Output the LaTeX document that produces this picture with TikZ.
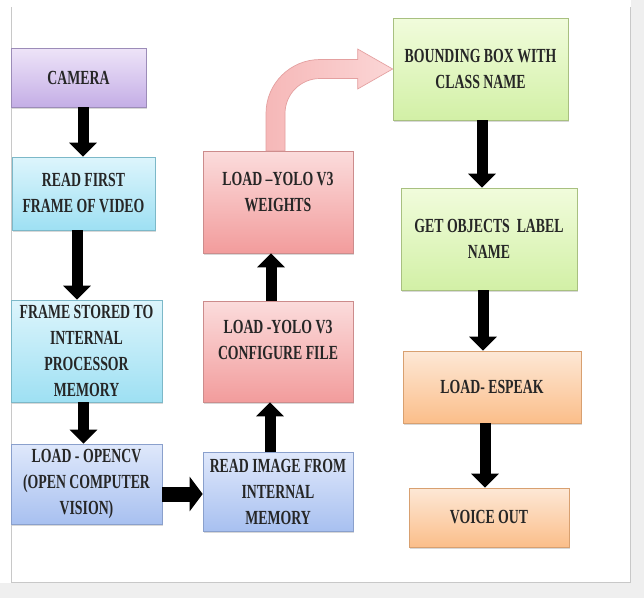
\documentclass[tikz,border=0pt]{standalone}
\usepackage{fontspec}
\newfontfamily\boxfont{Liberation Serif}[FakeStretch=0.69]
\usetikzlibrary{arrows.meta, shadows, calc}

\definecolor{txtgray}{HTML}{262626}
\definecolor{pagegray}{HTML}{EFEFEF}
\definecolor{panelline}{HTML}{C8C8C8}
% 方框颜色
\definecolor{purpleedge}{HTML}{9C8CB8}
\definecolor{purpletop}{HTML}{EEE4F8}
\definecolor{purplebot}{HTML}{C4AEE6}
\definecolor{cyanedge}{HTML}{7CB8C8}
\definecolor{cyantop}{HTML}{DDF5FC}
\definecolor{cyanbot}{HTML}{9EE0F3}
\definecolor{blueedge}{HTML}{8AA0CC}
\definecolor{bluetop}{HTML}{DFE8FB}
\definecolor{bluebot}{HTML}{A8C0F0}
\definecolor{rededge}{HTML}{CC8C8C}
\definecolor{redtop}{HTML}{FBDCDC}
\definecolor{redbot}{HTML}{F29C9C}
\definecolor{greenedge}{HTML}{A8C080}
\definecolor{greentop}{HTML}{F1FCDC}
\definecolor{greenbot}{HTML}{D2F0A6}
\definecolor{orangeedge}{HTML}{D8A070}
\definecolor{orangetop}{HTML}{FDE8D6}
\definecolor{orangebot}{HTML}{FBBE8A}
\definecolor{pinkedge}{HTML}{E4A0A0}
\definecolor{pinkleft}{HTML}{F6B8B8}
\definecolor{pinkright}{HTML}{FBD6D6}

\begin{document}
\begin{tikzpicture}[
        x=1pt, y=-1pt,
        box/.style={
            draw,
            line width=0.7pt,
            align=center,
            inner sep=2pt,
            font=\boxfont\bfseries\fontsize{20pt}{26pt}\selectfont,
            text=txtgray,
            drop shadow={shadow xshift=1.2pt, shadow yshift=-1.8pt, opacity=0.3}
        },
        purplebox/.style={draw=purpleedge, top color=purpletop, bottom color=purplebot},
        cyanbox/.style={draw=cyanedge, top color=cyantop, bottom color=cyanbot},
        bluebox/.style={draw=blueedge, top color=bluetop, bottom color=bluebot},
        redbox/.style={draw=rededge, top color=redtop, bottom color=redbot},
        greenbox/.style={draw=greenedge, top color=greentop, bottom color=greenbot},
        orangebox/.style={draw=orangeedge, top color=orangetop, bottom color=orangebot},
        blk/.style={line width=11pt, -{Triangle[width=27pt, length=14pt]}},
        bendarrow/.style={draw=pinkedge, line width=0.7pt, left color=pinkleft, right color=pinkright}
    ]
        % 页面背景
        \useasboundingbox (0,0) rectangle (644,598);
        \fill[white] (0,0) rectangle (644,598);
        \fill[pagegray] (631,0) rectangle (644,598);
        \fill[pagegray] (0,583) rectangle (644,598);
        \draw[panelline] (11,7) -- (11,582) -- (630,582) -- (630,7);

        % 左列
        \node[box, purplebox, minimum width=135pt, minimum height=59pt] (camera) at (78.5,77.5) {CAMERA};
        \node[box, cyanbox, minimum width=143pt, minimum height=73pt] (readfirst) at (83.5,193.5) {READ FIRST\\FRAME OF VIDEO};
        \node[box, cyanbox, minimum width=151pt, minimum height=102pt] (framestored) at (86.5,351) {FRAME STORED TO\\INTERNAL\\PROCESSOR\\MEMORY};
        \node[box, bluebox, minimum width=151pt, minimum height=80pt] (opencv) at (86.5,484) {LOAD - OPENCV\\(OPEN COMPUTER\\VISION)};

        % 中列
        \node[box, bluebox, minimum width=150pt, minimum height=79pt] (readimg) at (278,491.5) {READ IMAGE FROM\\INTERNAL\\MEMORY};
        \node[box, redbox, minimum width=150pt, minimum height=101pt] (configure) at (278,351.5) {LOAD -YOLO V3\\CONFIGURE FILE\\[-3pt]\mbox{}};
        \node[box, redbox, minimum width=150pt, minimum height=102pt] (weights) at (278,202) {LOAD –YOLO V3\\WEIGHTS\\[-6pt]\mbox{}};

        % 右列
        \node[box, greenbox, minimum width=175pt, minimum height=102pt] (bbox) at (480.5,69) {BOUNDING BOX WITH\\CLASS NAME};
        \node[box, greenbox, minimum width=176pt, minimum height=102pt] (getobj) at (489,239) {GET OBJECTS~ LABEL\\NAME};
        \node[box, orangebox, minimum width=178pt, minimum height=72pt] (espeak) at (492,387) {LOAD- ESPEAK};
        \node[box, orangebox, minimum width=160pt, minimum height=59pt] (voice) at (489,517.5) {VOICE OUT};

        % 箭头
        \draw[blk] ([xshift=4.5pt]camera.south) -- ([xshift=4.5pt]camera.south |- readfirst.north);
        \draw[blk] ([xshift=-6.5pt]readfirst.south) -- ([xshift=-6.5pt]readfirst.south |- framestored.north);
        \draw[blk] ([xshift=-3pt]framestored.south) -- ([xshift=-3pt]framestored.south |- opencv.north);
        \draw[blk, line width=15pt, -{Triangle[width=34pt, length=13pt]}] ([yshift=-10pt]opencv.east) -- ([yshift=-10pt]opencv.east -| readimg.west);
        \draw[blk] ([xshift=-8pt]readimg.north) -- ([xshift=-8pt]readimg.north |- configure.south);
        \draw[blk] ([xshift=-7pt]configure.north) -- ([xshift=-7pt]configure.north |- weights.south);
        \draw[blk] ([xshift=1.5pt]bbox.south) -- ([xshift=1.5pt]bbox.south |- getobj.north);
        \draw[blk] ([xshift=-6pt]getobj.south) -- ([xshift=-6pt]getobj.south |- espeak.north);
        \draw[blk] ([xshift=-7pt]espeak.south) -- ([xshift=-7pt]espeak.south |- voice.north);

        % 弯箭头
        \path[bendarrow] let \p1=(weights.north), \p2=(bbox.west) in
            (\x1-12pt,\y1) -- (\x1-12pt,\y2+9.5pt-54pt)
            arc[start angle=180, end angle=90, radius=54pt]
            -- (\x2-35pt,\y2+9.5pt) -- (\x2-35pt,\y2+20pt) -- (\x2,\y2)
            -- (\x2-35pt,\y2-20pt) -- (\x2-35pt,\y2-9.5pt)
            -- (\x1+42pt,\y2-9.5pt)
            arc[start angle=90, end angle=180, radius=35pt]
            -- (\x1+7pt,\y1) -- cycle;
    \end{tikzpicture}
\end{document}
